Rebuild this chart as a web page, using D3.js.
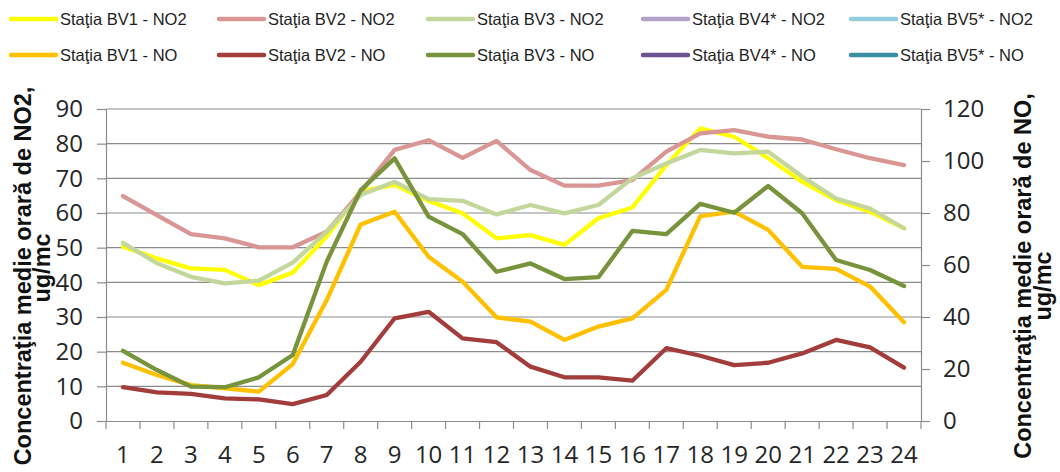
<!DOCTYPE html>
<html>
<head>
<meta charset="utf-8">
<script src="https://cdn.jsdelivr.net/npm/d3@7"></script>
<style>
  html, body { margin: 0; padding: 0; background: #fff; }
  svg { display: block; }
</style>
</head>
<body>
<svg id="chart" width="1060" height="472"></svg>
<script>
const hours = d3.range(1, 25);
const leftTicks = [0, 10, 20, 30, 40, 50, 60, 70, 80, 90];
const rightTicks = [0, 20, 40, 60, 80, 100, 120];

const bv1NO2 = [50.3, 46.9, 44.0, 43.6, 39.2, 42.8, 53.2, 66.3, 68.1, 63.5, 59.9, 52.7, 53.6, 50.8, 58.5, 61.6, 73.8, 84.4, 82.0, 75.8, 69.0, 63.7, 60.4, 55.6];
const bv2NO2 = [64.9, 59.4, 53.9, 52.7, 50.1, 50.1, 54.6, 66.0, 78.2, 81.0, 75.9, 80.8, 72.4, 67.9, 67.9, 69.5, 77.7, 83.0, 83.9, 82.0, 81.2, 78.4, 75.8, 73.8];
const bv3NO2 = [51.4, 45.5, 41.6, 39.7, 40.5, 45.7, 54.6, 65.2, 69.0, 64.0, 63.5, 59.6, 62.3, 59.9, 62.3, 70.0, 74.3, 78.2, 77.2, 77.7, 70.5, 64.2, 61.3, 55.6];
const bv4NO2 = [];
const bv5NO2 = [];
const bv1NO = [22.4, 17.7, 13.8, 12.6, 11.3, 21.9, 46.5, 75.6, 80.5, 63.2, 53.6, 39.9, 38.2, 31.2, 36.3, 39.5, 50.4, 78.8, 80.5, 73.5, 59.3, 58.5, 51.7, 38.0];
const bv2NO = [13.0, 11.0, 10.4, 8.7, 8.3, 6.5, 10.0, 22.8, 39.5, 42.0, 31.8, 30.3, 20.9, 16.8, 16.8, 15.5, 28.0, 25.1, 21.5, 22.4, 26.0, 31.2, 28.3, 20.5];
const bv3NO = [27.0, 19.6, 13.2, 13.0, 16.8, 25.4, 61.3, 88.8, 101.0, 78.6, 71.9, 57.4, 60.6, 54.6, 55.3, 73.1, 71.9, 83.5, 80.1, 90.4, 79.9, 61.9, 58.1, 51.9];
const bv4NO = [];
const bv5NO = [];

const seriesNames = [
  "Staţia BV1 - NO2", "Staţia BV2 - NO2", "Staţia BV3 - NO2", "Staţia BV4* - NO2", "Staţia BV5* - NO2",
  "Staţia BV1 - NO", "Staţia BV2 - NO", "Staţia BV3 - NO", "Staţia BV4* - NO", "Staţia BV5* - NO"
];
const seriesColors = ["#FFFF00", "#D99694", "#C3D69B", "#B3A2C7", "#93CDDD",
                      "#FFC000", "#A33D3C", "#77933C", "#6B5290", "#3990A5"];
const seriesValues = [bv1NO2, bv2NO2, bv3NO2, bv4NO2, bv5NO2, bv1NO, bv2NO, bv3NO, bv4NO, bv5NO];
const seriesAxis = ["L", "L", "L", "L", "L", "R", "R", "R", "R", "R"];

const leftTitle = ["Concentraţia medie orară de NO2,", "ug/mc"];
const rightTitle = ["Concentraţia medie orară de NO,", "ug/mc"];

const svg = d3.select("#chart");
const plot = { left: 106, right: 921, top: 109, bottom: 421 };

const x = d3.scaleBand().domain(hours).range([plot.left, plot.right]);
const yL = d3.scaleLinear().domain([0, 90]).range([plot.bottom, plot.top]);
const yR = d3.scaleLinear().domain([0, 120]).range([plot.bottom, plot.top]);
const cx = h => x(h) + x.bandwidth() / 2;

const gridColor = "#8c8c8c";
const tickFont = "'Open Sans', 'Liberation Sans', sans-serif";

// gridlines
svg.append("g").selectAll("line").data(leftTicks.filter(t => t > 0)).join("line")
  .attr("x1", plot.left).attr("x2", plot.right)
  .attr("y1", d => yL(d)).attr("y2", d => yL(d))
  .attr("stroke", gridColor).attr("stroke-width", 1.2);

// left axis
const gL = svg.append("g").attr("transform", `translate(${plot.left},0)`)
  .call(d3.axisLeft(yL).tickValues(leftTicks).tickSize(9).tickSizeOuter(0).tickPadding(14));
// right axis
const gR = svg.append("g").attr("transform", `translate(${plot.right},0)`)
  .call(d3.axisRight(yR).tickValues(rightTicks).tickSize(9).tickSizeOuter(0).tickPadding(13));
// bottom axis labels
const gB = svg.append("g").attr("transform", `translate(0,${plot.bottom})`)
  .call(d3.axisBottom(x).tickSize(0).tickPadding(25));
// category separators
const bounds = hours.map(h => x(h)).concat([x(hours[hours.length - 1]) + x.bandwidth()]);
gB.append("g").selectAll("line").data(bounds).join("line")
  .attr("x1", d => d).attr("x2", d => d).attr("y1", 0).attr("y2", 8)
  .attr("stroke", gridColor).attr("stroke-width", 1.2);

[gL, gR, gB].forEach(g => {
  g.selectAll(".domain").attr("stroke", gridColor).attr("stroke-width", 1.2);
  g.selectAll(".tick line").attr("stroke", gridColor).attr("stroke-width", 1.2);
  g.selectAll(".tick text").attr("font-family", tickFont).attr("font-size", 24).attr("fill", "#262626");
});

// lines
const lineFor = (scale) => d3.line().x((d, i) => cx(hours[i])).y(d => scale(d));
seriesValues.forEach((vals, i) => {
  if (!vals.length) return;
  svg.append("path").datum(vals)
    .attr("d", lineFor(seriesAxis[i] === "L" ? yL : yR))
    .attr("fill", "none").attr("stroke", seriesColors[i])
    .attr("stroke-width", 4.3).attr("stroke-linejoin", "round").attr("stroke-linecap", "round");
});

// legend
const legX = [10, 218, 427, 642, 850];
const legY = [19, 55];
const leg = svg.append("g");
seriesNames.forEach((name, i) => {
  const col = i % 5, row = Math.floor(i / 5);
  const g = leg.append("g").attr("transform", `translate(${legX[col]},${legY[row]})`);
  g.append("line").attr("x1", 1).attr("x2", 46).attr("y1", 0).attr("y2", 0)
    .attr("stroke", seriesColors[i]).attr("stroke-width", 4.5).attr("stroke-linecap", "round");
  g.append("text").attr("x", 50).attr("y", 0).attr("dy", "0.35em")
    .attr("font-family", "'Liberation Sans', Arial, sans-serif").attr("font-size", 16.5)
    .attr("fill", "#1e1e1e").text(name);
});

// axis titles
function title(lines, pos) {
  lines.forEach((t, i) => {
    svg.append("text")
      .attr("transform", `translate(${pos[i][0]},${pos[i][1]}) rotate(-90)`)
      .attr("text-anchor", "middle")
      .attr("font-family", "'Liberation Sans', Arial, sans-serif")
      .attr("font-weight", "bold").attr("font-size", 23.5).attr("fill", "#111")
      .text(t);
  });
}
title(leftTitle, [[31, 276], [50, 268]]);
title(rightTitle, [[1031, 276], [1051, 286]]);
</script>
</body>
</html>
